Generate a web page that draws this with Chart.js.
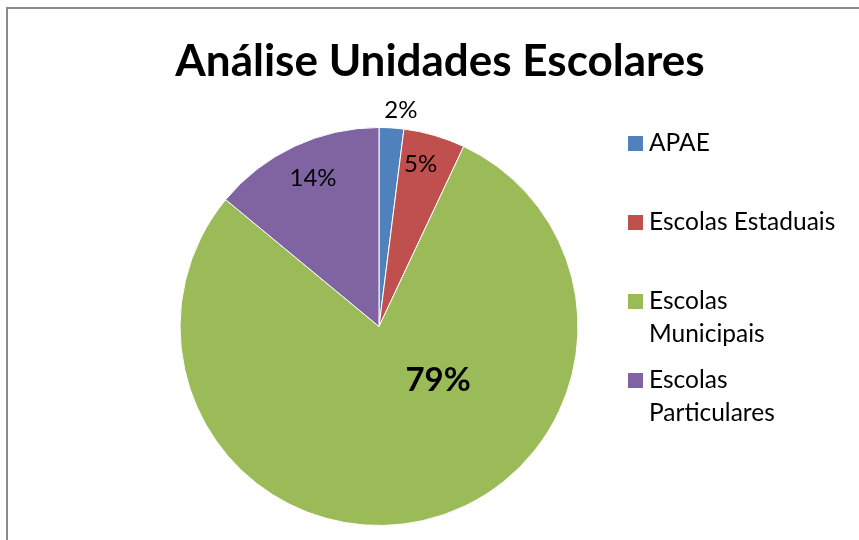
<!DOCTYPE html>
<html><head><meta charset="utf-8">
<script src="https://cdn.jsdelivr.net/npm/chart.js@4/dist/chart.umd.min.js"></script>
<style>
html,body{margin:0;padding:0;background:#fff;overflow:hidden;}
#wrap{position:relative;width:859px;height:540px;overflow:hidden;}
#frame{position:absolute;left:6px;top:7px;width:1000px;height:1000px;border:2px solid #8a8a8a;box-sizing:border-box;}
canvas{position:absolute;left:0;top:0;}
</style></head><body>
<div id="wrap"><div id="frame"></div><canvas id="c" width="859" height="540"></canvas></div>
<script>
// ---- data ----
const chartTitle = 'Análise Unidades Escolares';
const categories = ['APAE', 'Escolas Estaduais', 'Escolas Municipais', 'Escolas Particulares'];
const legendLines = [['APAE'], ['Escolas Estaduais'], ['Escolas', 'Municipais'], ['Escolas', 'Particulares']];
const shares = [2, 5, 79, 14];
const sliceColors = ['#4F81BD', '#C0504D', '#9BBB59', '#8064A2'];
const valueLabels = ['2%', '5%', '79%', '14%'];

const FONT = "Lato, 'Open Sans', 'DejaVu Sans', sans-serif";

// per-slice label placement (radial fraction of radius, angle shift in degrees)
const labelPlacement = [
  {frac: 1.09, dAng: 2.2, bold: false, size: 24},
  {frac: 0.84, dAng: -1.8, bold: false, size: 24},
  {frac: 0.40, dAng: -35.3, bold: true, size: 33},
  {frac: 0.815, dAng: 1.2, bold: false, size: 24}
];

const sliceLabels = {
  id: 'sliceLabels',
  afterDatasetsDraw(chart) {
    const ctx = chart.ctx;
    const meta = chart.getDatasetMeta(0);
    ctx.save();
    ctx.fillStyle = '#000';
    ctx.textAlign = 'center';
    ctx.textBaseline = 'middle';
    meta.data.forEach((arc, i) => {
      const p = arc.getProps(['x', 'y', 'startAngle', 'endAngle', 'outerRadius'], true);
      const pl = labelPlacement[i];
      const a = (p.startAngle + p.endAngle) / 2 + pl.dAng * Math.PI / 180;
      const r = p.outerRadius * pl.frac;
      ctx.font = (pl.bold ? 'bold ' : '') + pl.size + 'px ' + FONT;
      ctx.fillText(valueLabels[i], p.x + r * Math.cos(a), p.y + r * Math.sin(a));
    });
    ctx.restore();
  }
};

const sideLegend = {
  id: 'sideLegend',
  afterDraw(chart) {
    const ctx = chart.ctx;
    const colors = chart.data.datasets[0].backgroundColor;
    ctx.save();
    ctx.font = '24.5px ' + FONT;
    ctx.textAlign = 'left';
    ctx.textBaseline = 'middle';
    chart.data.labels.forEach((lab, i) => {
      const yc = 143.5 + 79 * i;
      ctx.fillStyle = colors[i];
      ctx.fillRect(628, yc - 7.5, 15, 15);
      ctx.fillStyle = '#000';
      legendLines[i].forEach((line, k) => {
        ctx.fillText(line, 649, yc + k * 32.5);
      });
    });
    ctx.restore();
  }
};

new Chart(document.getElementById('c'), {
  type: 'pie',
  data: {
    labels: categories,
    datasets: [{
      data: shares,
      backgroundColor: sliceColors,
      borderColor: '#ffffff',
      borderWidth: 1
    }]
  },
  options: {
    responsive: false,
    animation: false,
    devicePixelRatio: 1,
    layout: {padding: {left: 21, right: 0, top: 0, bottom: 14}},
    plugins: {
      title: {
        display: true,
        text: chartTitle,
        color: '#000',
        font: {family: FONT, size: 44, weight: 'bold', lineHeight: 1.2},
        padding: {top: 35, bottom: 39.2}
      },
      legend: {
        display: true,
        position: 'right',
        fullSize: false,
        labels: {generateLabels: () => [], padding: 112}
      },
      tooltip: {enabled: false}
    }
  },
  plugins: [sliceLabels, sideLegend]
});
</script>
</body></html>
